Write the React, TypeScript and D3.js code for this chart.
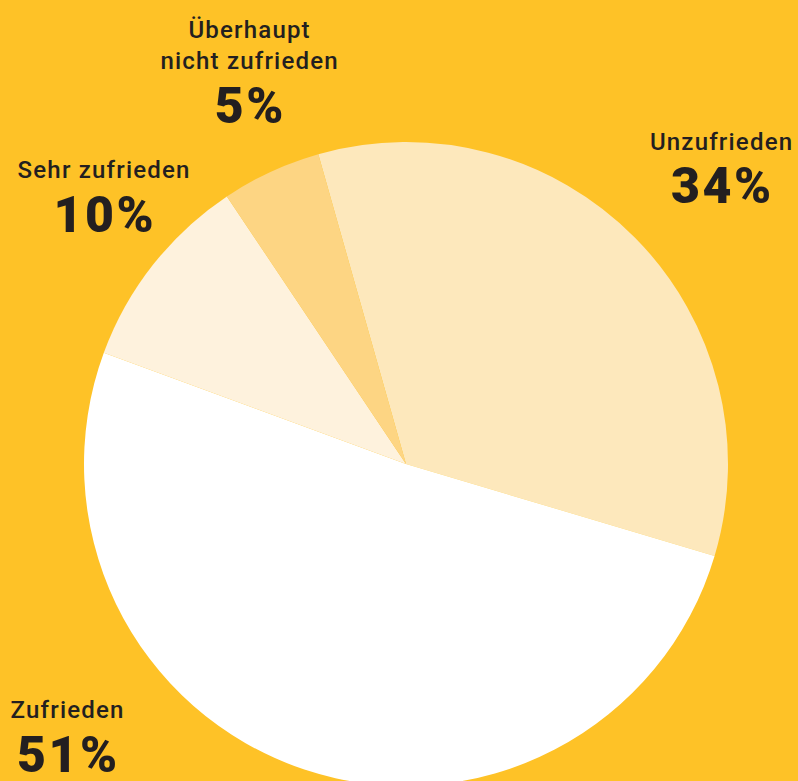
import React, { useEffect } from "react";
import * as d3 from "d3";

const categories = ["Unzufrieden", "Zufrieden", "Sehr zufrieden", "Überhaupt nicht zufrieden"];
const values = [34, 51, 10, 5];
const colors = ["#FDE8BC", "#FFFFFF", "#FEF2DD", "#FDD583"];
const labelLines = [["Unzufrieden"], ["Zufrieden"], ["Sehr zufrieden"], ["Überhaupt", "nicht zufrieden"]];

const W = 798;
const H = 781;
const CX = 406;
const CY = 464;
const R = 322;
const START = (-15.8 * Math.PI) / 180;

// label layout: center x, baseline of first name line, baseline of value
const labelPos = [
  { x: 721, y: 149.5, vy: 203 },
  { x: 67, y: 717.5, vy: 772 },
  { x: 103.5, y: 178, vy: 232 },
  { x: 249, y: 37.5, vy: 123 },
];

const NAME_LS = 1.2;
const VAL_LS = 2.5;

export default function App() {
  useEffect(() => {
    document.body.style.margin = "0";
  }, []);

  const pie = d3
    .pie<number>()
    .sort(null)
    .value((d) => d)
    .startAngle(START)
    .endAngle(START + 2 * Math.PI);
  const arcs = pie(values);
  const arc = d3.arc<d3.PieArcDatum<number>>().innerRadius(0).outerRadius(R);

  return (
    <svg width={W} height={H} style={{ display: "block" }}>
      <rect width={W} height={H} fill="#FEC227" />
      <g transform={`translate(${CX},${CY})`}>
        {arcs.map((a, i) => (
          <path key={categories[i]} d={arc(a) || ""} fill={colors[i]} />
        ))}
      </g>
      {categories.map((c, i) => {
        const p = labelPos[i];
        return (
          <g key={c} fill="#231F20" textAnchor="middle" fontFamily="Roboto, 'Noto Sans', sans-serif">
            {labelLines[i].map((ln, j) => (
              <text
                key={j}
                x={p.x + NAME_LS / 2}
                y={p.y + j * 31.5}
                fontSize={24}
                fontWeight={500}
                letterSpacing={NAME_LS}
              >
                {ln}
              </text>
            ))}
            <text x={p.x + VAL_LS / 2} y={p.vy} fontSize={50} fontWeight={900} letterSpacing={VAL_LS}>
              {values[i]}%
            </text>
          </g>
        );
      })}
    </svg>
  );
}
